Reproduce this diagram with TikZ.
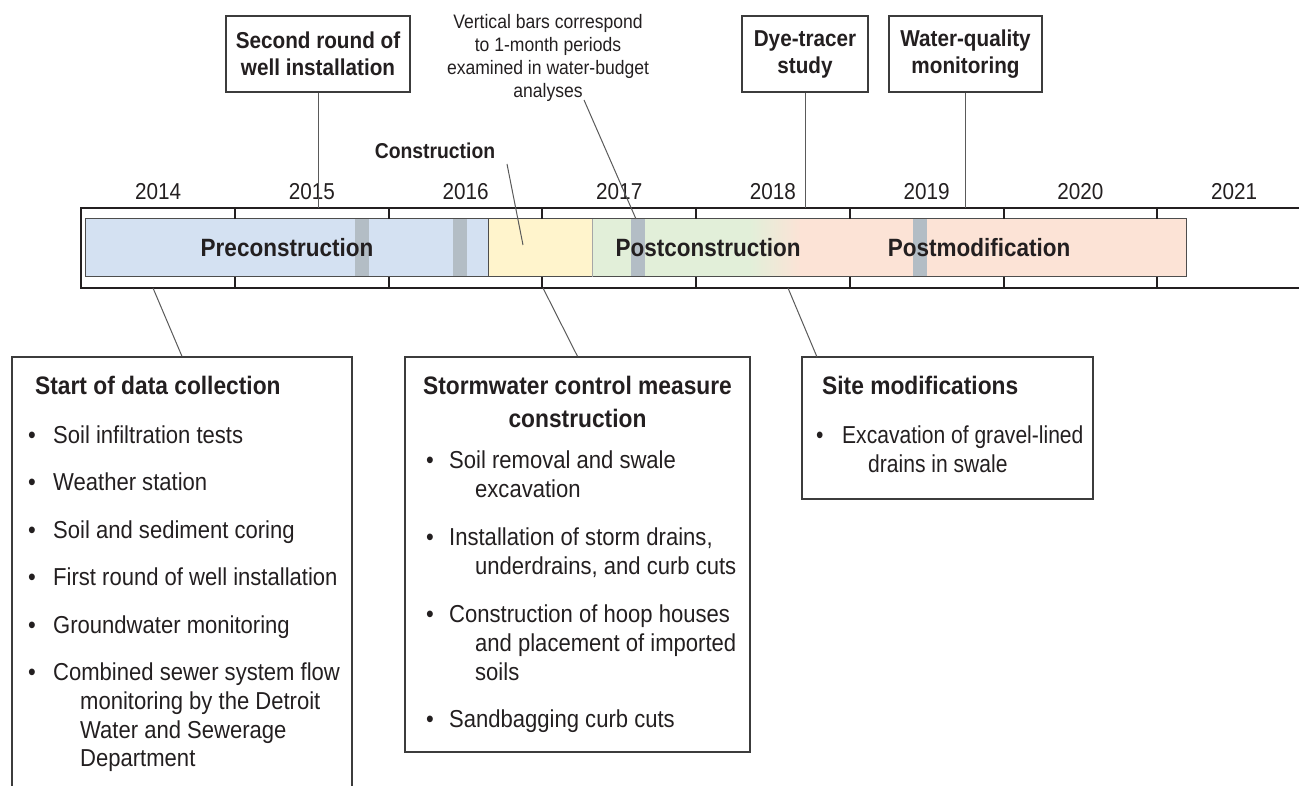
\documentclass[tikz,border=0pt]{standalone}
\usepackage{fontspec}
\setmainfont{Liberation Sans}[FakeStretch=0.9]
\definecolor{ink}{HTML}{231F20}
\definecolor{boxline}{HTML}{3C3C3C}
\definecolor{connline}{HTML}{5A5A5A}
\definecolor{baredge}{HTML}{4D4D4D}
\definecolor{preblue}{HTML}{D4E1F2}
\definecolor{consyellow}{HTML}{FFF4CC}
\definecolor{postgreen}{HTML}{E2EFD9}
\definecolor{modorange}{HTML}{FCE3D6}
\definecolor{monthgray}{HTML}{B3BDC5}
\newcommand\fBody{\fontsize{24.5}{28.7}\selectfont}
\newcommand\fHead{\bfseries\fontsize{25.3}{32}\selectfont}
\newcommand\fTop{\bfseries\fontsize{23}{27}\selectfont}
\newcommand\fYear{\fontsize{23}{27}\selectfont}
\newcommand\fNote{\fontsize{19.5}{23}\selectfont}
\newcommand\fPhase{\bfseries\fontsize{25}{30}\selectfont}
\newcommand\fCons{\bfseries\fontsize{21.5}{26}\selectfont}
\newcommand\bul[1]{\makebox[#1][l]{\textbullet}}
\begin{document}
\begin{tikzpicture}[x=1pt,y=-1pt,
  txt/.style={inner sep=0pt,anchor=base west,text=ink,font=\fBody},
  narrowtxt/.style={txt,font=\fBody\addfontfeature{FakeStretch=0.86}},
  head/.style={inner sep=0pt,anchor=base west,text=ink,font=\fHead},
  ctr/.style={inner sep=0pt,anchor=base,text=ink},
  topbox/.style={draw=boxline,line width=1.3pt,fill=white,align=center,inner sep=0pt,
                 minimum height=76pt,text=ink,font=\fTop},
  infobox/.style={draw=boxline,line width=1.3pt,inner sep=0pt},
  conn/.style={draw=connline,line width=1pt},
  frame/.style={draw=ink,line width=2.4pt},
  tickmark/.style={draw=ink,line width=2pt},
  barline/.style={draw=baredge,line width=1pt}]
\useasboundingbox (0,0) rectangle (1299,786);

% ---- phase bar ----
\fill[preblue] (85,219) rectangle (488,277);
\fill[consyellow] (488,219) rectangle (592,277);
\fill[postgreen] (592,219) rectangle (751,277);
\shade[left color=postgreen,right color=modorange] (750,219) rectangle (801,277);
\fill[modorange] (800,219) rectangle (1186,277);
\foreach \x in {355,453,631,913}
  \fill[monthgray] (\x,219) rectangle (\x+14,277);
\draw[barline] (85,219) rectangle (1186,277);
\draw[barline] (488,219) -- (488,277);
\draw[draw=gray!70,line width=0.8pt] (592,219) -- (592,277);

\node[ctr,font=\fPhase] (pre) at (287,257) {Preconstruction};
\node[ctr,font=\fPhase] (post) at (708,257) {Postconstruction};
\node[ctr,font=\fPhase] (mod) at (979,257) {Postmodification};

% ---- time axis frame and year ticks ----
\draw[frame] (1305,208) -- (81,208) -- (81,288) -- (1305,288);
\foreach \i in {1,...,7} {
  \draw[tickmark] ({81.3+153.7*\i},208) -- ++(0,11);
  \draw[tickmark] ({81.3+153.7*\i},288) -- ++(0,-11);
}
\foreach \yr [count=\i from 0] in {2014,2015,2016,2017,2018,2019,2020,2021}
  \node[ctr,font=\fYear] (y\yr) at ({81.3+153.7*(\i+0.5)},200) {\yr};

% ---- events above the axis ----
\node[topbox,minimum width=184pt] (secround) at (318,54) {Second round of\\well installation};
\node[topbox,minimum width=126pt] (dye) at (805,54) {Dye-tracer\\study};
\node[topbox,minimum width=153pt] (wq) at (965.5,54) {Water-quality\\monitoring};
\coordinate (secT) at (318,208);
\coordinate (dyeT) at (805,208);
\coordinate (wqT) at (965.5,208);
\draw[conn] (secround.south) -- (secT);
\draw[conn] (dye.south) -- (dyeT);
\draw[conn] (wq.south) -- (wqT);

\node[ctr,font=\fNote] (n1) at (548,29) {Vertical bars correspond};
\node[ctr,font=\fNote] (n2) at (548,52) {to 1-month periods};
\node[ctr,font=\fNote] (n3) at (548,75) {examined in water-budget};
\node[ctr,font=\fNote] (n4) at (548,98) {analyses};
\coordinate (noteA) at (584,100);
\coordinate (noteB) at (636,219);
\draw[conn] (noteA) -- (noteB);

\node[ctr,font=\fCons] (conslab) at (435,159) {Construction};
\coordinate (consA) at (507,164);
\coordinate (consB) at (523,245);
\draw[conn] (consA) -- (consB);

% ---- boxes below the axis ----
\node[infobox,minimum width=340pt,minimum height=463pt] (startbox) at (182,588.5) {};
\node[infobox,minimum width=345pt,minimum height=395pt] (smbox) at (577.5,554.5) {};
\node[infobox,minimum width=291pt,minimum height=142pt] (sitebox) at (947.5,428) {};

\coordinate (startT) at (153,288);
\coordinate (smT) at (543,288);
\coordinate (siteT) at (788,288);
\coordinate (siteB) at (817,357);
\draw[conn] (startT) -- (startbox.north);
\draw[conn] (smT) -- (smbox.north);
\draw[conn] (siteT) -- (siteB);

% data collection
\node[head] (sh) at (35,394) {Start of data collection};
\node[txt] (s1) at (28,443) {\bul{25pt}Soil infiltration tests};
\node[txt] (s2) at (28,490) {\bul{25pt}Weather station};
\node[txt] (s3) at (28,538) {\bul{25pt}Soil and sediment coring};
\node[txt] (s4) at (28,585) {\bul{25pt}First round of well installation};
\node[txt] (s5) at (28,633) {\bul{25pt}Groundwater monitoring};
\node[txt] (s6) at (28,680) {\bul{25pt}Combined sewer system flow};
\node[txt] (s6b) at (80,709) {monitoring by the Detroit};
\node[txt] (s6c) at (80,738) {Water and Sewerage};
\node[txt] (s6d) at (80,766) {Department};

% stormwater control measure construction
\node[ctr,font=\fHead] (mh1) at (577.5,395) {Stormwater control measure};
\node[ctr,font=\fHead] (mh2) at (577.5,427) {construction};
\node[txt] (m1) at (426,468) {\bul{23pt}Soil removal and swale};
\node[txt] (m1b) at (475,497) {excavation};
\node[txt] (m2) at (426,545) {\bul{23pt}Installation of storm drains,};
\node[txt] (m2b) at (475,574) {underdrains, and curb cuts};
\node[txt] (m3) at (426,622) {\bul{23pt}Construction of hoop houses};
\node[txt] (m3b) at (475,651) {and placement of imported};
\node[txt] (m3c) at (475,680) {soils};
\node[txt] (m4) at (426,727) {\bul{23pt}Sandbagging curb cuts};

% site modifications
\node[head] (th) at (822,394) {Site modifications};
\node[narrowtxt] (t1) at (816,443) {\bul{26pt}Excavation of gravel-lined};
\node[narrowtxt] (t1b) at (868,472) {drains in swale};
\end{tikzpicture}
\end{document}
